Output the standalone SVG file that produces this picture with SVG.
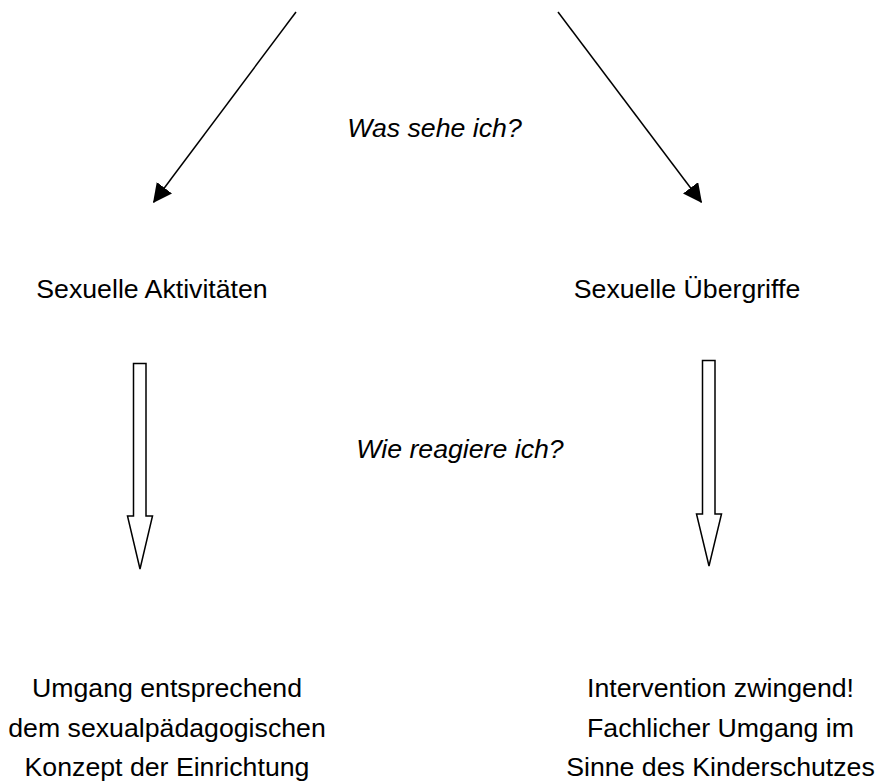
<svg xmlns="http://www.w3.org/2000/svg" width="878" height="782" viewBox="0 0 878 782">
<style>
text{font-family:"Liberation Sans",Arial,sans-serif;font-size:26.7px;fill:#000}
.it{font-style:italic}
.ln{stroke:#000;stroke-width:1.5;fill:none}
.hol{stroke:#000;stroke-width:1.5;fill:#fff;stroke-linejoin:miter}
</style>
<defs>
<marker id="ah" viewBox="0 0 19 19" refX="18" refY="9.5" markerWidth="19" markerHeight="19" markerUnits="userSpaceOnUse" orient="auto">
<path d="M0,0 L19,9.5 L0,19 z" fill="#000"/>
</marker>
</defs>
<g id="connectors">
<line class="ln" x1="296" y1="12" x2="153.6" y2="202.2" marker-end="url(#ah)"/>
<line class="ln" x1="558" y1="12" x2="701.4" y2="202.2" marker-end="url(#ah)"/>
<polygon id="arrow-left" class="hol" points="133.5,363.5 146,363.5 146,516 152.5,516 140,569 127.5,516 133.5,516"/>
<polygon id="arrow-right" class="hol" points="702.5,360.5 715,360.5 715,514 721.5,514 709,566 696.5,514 702.5,514"/>
</g>
<g id="q1"><text class="it" x="434.5" y="137" text-anchor="middle">Was sehe ich?</text></g>
<g id="q2"><text class="it" x="460" y="458" text-anchor="middle">Wie reagiere ich?</text></g>
<g id="n-aktivitaeten"><text x="152" y="298" text-anchor="middle">Sexuelle Aktivitäten</text></g>
<g id="n-uebergriffe"><text x="687" y="298" text-anchor="middle">Sexuelle Übergriffe</text></g>
<g id="n-umgang">
<text x="167" y="697" text-anchor="middle">Umgang entsprechend</text>
<text x="167" y="737" text-anchor="middle">dem sexualpädagogischen</text>
<text x="167" y="776" text-anchor="middle">Konzept der Einrichtung</text>
</g>
<g id="n-intervention">
<text x="720.5" y="697" text-anchor="middle">Intervention zwingend!</text>
<text x="720.5" y="737" text-anchor="middle">Fachlicher Umgang im</text>
<text x="720.5" y="776" text-anchor="middle">Sinne des Kinderschutzes</text>
</g>
</svg>
